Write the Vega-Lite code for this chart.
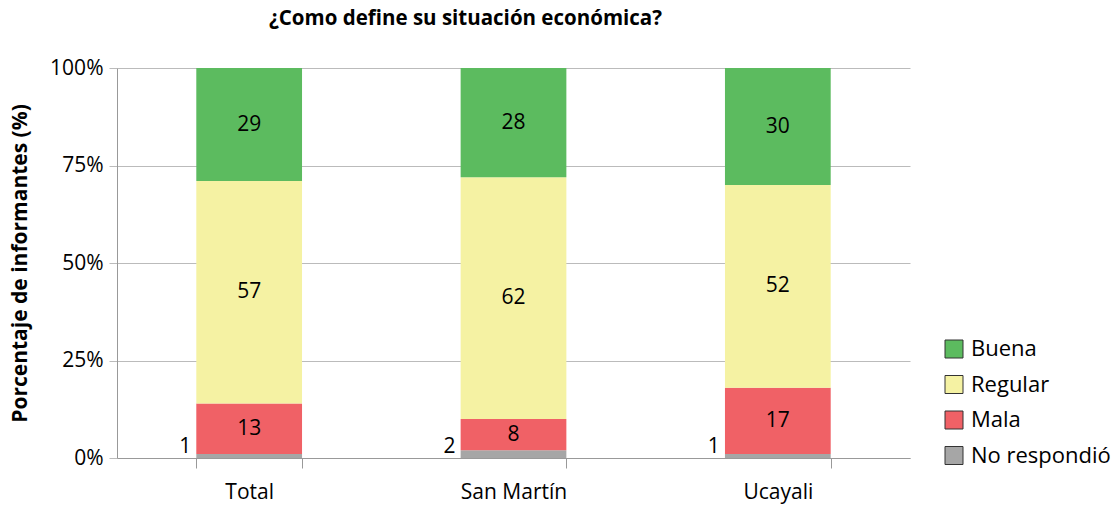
{
  "$schema": "https://vega.github.io/schema/vega-lite/v6.json",
  "width": 793,
  "height": 390,
  "autosize": "none",
  "padding": {"left": 117, "top": 68, "right": 206, "bottom": 48},
  "background": "white",
  "title": {"text": "¿Como define su situación económica?", "font": "Open Sans", "fontSize": 20.5, "fontWeight": "bold", "color": "#000", "anchor": "middle", "dx": -48, "offset": 28},
  "config": {"font": "Open Sans", "view": {"stroke": null}},
  "data": {"values": [
    {"region": "Total", "cat": "No respondió", "orden": 1, "v": 1},
    {"region": "Total", "cat": "Mala", "orden": 2, "v": 13},
    {"region": "Total", "cat": "Regular", "orden": 3, "v": 57},
    {"region": "Total", "cat": "Buena", "orden": 4, "v": 29},
    {"region": "San Martín", "cat": "No respondió", "orden": 1, "v": 2},
    {"region": "San Martín", "cat": "Mala", "orden": 2, "v": 8},
    {"region": "San Martín", "cat": "Regular", "orden": 3, "v": 62},
    {"region": "San Martín", "cat": "Buena", "orden": 4, "v": 28},
    {"region": "Ucayali", "cat": "No respondió", "orden": 1, "v": 1},
    {"region": "Ucayali", "cat": "Mala", "orden": 2, "v": 17},
    {"region": "Ucayali", "cat": "Regular", "orden": 3, "v": 52},
    {"region": "Ucayali", "cat": "Buena", "orden": 4, "v": 30}
  ]},
  "encoding": {
    "x": {"field": "region", "type": "nominal", "sort": ["Total", "San Martín", "Ucayali"],
      "scale": {"paddingInner": 0.6, "paddingOuter": 0.3},
      "axis": {"title": null, "labelAngle": 0, "labelFontSize": 21, "labelColor": "#000", "tickBand": "extent", "tickSize": 10, "tickColor": "#999", "domainColor": "#999", "labelPadding": 13}}
  },
  "layer": [
    {
      "mark": {"type": "bar"},
      "encoding": {
        "y": {"field": "v", "type": "quantitative", "stack": "zero",
          "scale": {"domain": [0, 100], "nice": false},
          "axis": {"title": "Porcentaje de informantes (%)", "titleFontSize": 21, "titleFontWeight": "bold", "titleColor": "#000",
            "values": [0, 25, 50, 75, 100], "labelExpr": "datum.value + '%'", "labelFontSize": 21, "labelColor": "#000",
            "grid": true, "gridColor": "#BBBBBB", "tickSize": 8, "tickColor": "#BBBBBB", "domainColor": "#999", "labelPadding": 6,
            "titleX": -97, "titleY": 195, "titleAngle": -90, "titleBaseline": "middle", "titleAlign": "center"}},
        "color": {"field": "cat", "type": "nominal",
          "scale": {"domain": ["Buena", "Regular", "Mala", "No respondió"], "range": ["#5CBB5F", "#F5F2A3", "#F06166", "#A6A6A6"]},
          "legend": {"title": null, "orient": "none", "legendX": 826, "legendY": 270, "symbolType": "square", "symbolSize": 324,
            "symbolStrokeColor": "#333", "symbolStrokeWidth": 1, "symbolOpacity": 1, "labelFontSize": 22, "labelColor": "#000",
            "rowPadding": 13.5, "labelOffset": 6}},
        "order": {"field": "orden", "type": "quantitative"}
      }
    },
    {
      "mark": {"type": "text", "fontSize": 21, "color": "#000", "baseline": "middle"},
      "encoding": {
        "y": {"field": "v", "type": "quantitative", "stack": "zero", "bandPosition": 0.5},
        "text": {"condition": {"test": "datum.cat === 'No respondió'", "value": ""}, "field": "v", "type": "quantitative"},
        "detail": {"field": "cat"},
        "order": {"field": "orden", "type": "quantitative"}
      }
    },
    {
      "transform": [{"filter": "datum.cat === 'No respondió'"}],
      "mark": {"type": "text", "fontSize": 21, "color": "#000", "align": "right", "baseline": "alphabetic", "dx": -58, "dy": -5},
      "encoding": {
        "y": {"datum": 0, "type": "quantitative"},
        "text": {"field": "v", "type": "quantitative"}
      }
    }
  ]
}
